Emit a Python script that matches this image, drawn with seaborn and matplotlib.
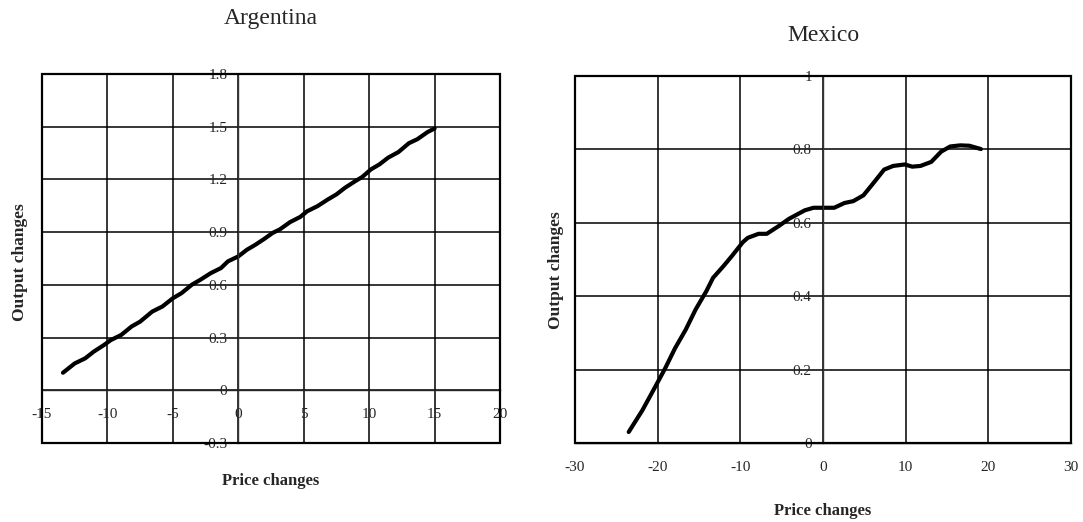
import pandas as pd
import seaborn as sns
import matplotlib.pyplot as plt
from matplotlib.patches import Rectangle

# values
arg_price = [-13.4, -12.5, -11.7, -11.05, -10.26, -9.74, -8.95, -8.16, -7.5, -6.58,
             -5.8, -5.0, -4.34, -3.55, -2.9, -2.1, -1.32, -0.79, 0.0, 0.66,
             1.32, 1.97, 2.63, 3.16, 3.95, 4.74, 5.26, 6.05, 6.84, 7.5,
             8.16, 8.95, 9.47, 10.13, 10.79, 11.45, 12.24, 13.03, 13.68, 14.47, 15.0]
arg_output = [0.10, 0.153, 0.182, 0.22, 0.258, 0.286, 0.315, 0.363, 0.391, 0.448,
              0.477, 0.524, 0.553, 0.601, 0.629, 0.667, 0.696, 0.734, 0.762, 0.80,
              0.829, 0.861, 0.896, 0.915, 0.957, 0.987, 1.019, 1.048, 1.086, 1.115,
              1.153, 1.191, 1.214, 1.257, 1.286, 1.324, 1.356, 1.406, 1.429, 1.47, 1.49]

mex_price = [-23.5, -21.85, -20.2, -19.1, -17.9, -16.6, -15.4, -14.1, -13.3, -12.0,
             -11.0, -9.7, -9.1, -7.8, -6.8, -5.3, -4.1, -2.2, -1.15, 1.36,
             2.6, 3.66, 4.9, 6.2, 7.4, 8.5, 9.9, 10.8, 11.8, 13.1,
             14.3, 15.4, 16.6, 17.7, 19.1]
mex_output = [0.03, 0.089, 0.157, 0.203, 0.258, 0.309, 0.364, 0.414, 0.45, 0.483,
              0.51, 0.547, 0.559, 0.57, 0.57, 0.592, 0.611, 0.634, 0.641, 0.641,
              0.654, 0.659, 0.675, 0.711, 0.745, 0.755, 0.759, 0.753, 0.755, 0.766,
              0.794, 0.808, 0.811, 0.81, 0.801]

arg_xticks = [-15, -10, -5, 0, 5, 10, 15, 20]
arg_yticks = [-0.3, 0, 0.3, 0.6, 0.9, 1.2, 1.5, 1.8]
arg_ylabels = ['-0.3', '0', '0.3', '0.6', '0.9', '1.2', '1.5', '1.8']
mex_xticks = [-30, -20, -10, 0, 10, 20, 30]
mex_yticks = [0, 0.2, 0.4, 0.6, 0.8, 1]
mex_ylabels = ['0', '0.2', '0.4', '0.6', '0.8', '1']

sns.set_style('white')
plt.rcParams['font.family'] = ['Liberation Serif', 'DejaVu Serif']

arg = pd.DataFrame({'price': arg_price, 'output': arg_output})
mex = pd.DataFrame({'price': mex_price, 'output': mex_output})

fig = plt.figure(figsize=(10.83, 5.22), dpi=100)
ax1 = fig.add_axes([0.0388, 0.1513, 0.4229, 0.7069])
ax2 = fig.add_axes([0.5309, 0.1513, 0.458, 0.7031])


def style(ax, xticks, yticks, ylabels, title, tpad, xlab_y, ylab_x, ylab_y):
    ax.set_xlim(xticks[0], xticks[-1])
    ax.set_ylim(yticks[0], yticks[-1])
    ax.set_xticks(xticks)
    ax.set_xticklabels([str(t) for t in xticks])
    ax.set_yticks(yticks)
    ax.set_yticklabels(ylabels)
    ax.grid(True, color='black', linewidth=1.1)
    ax.set_axisbelow(True)
    for s in ['top', 'right']:
        ax.spines[s].set_visible(False)
    ax.spines['left'].set_position(('data', 0))
    ax.spines['bottom'].set_position(('data', 0))
    ax.spines['left'].set_linewidth(1.0)
    ax.spines['bottom'].set_linewidth(1.0)
    ax.spines['left'].set_color('#333333')
    ax.add_patch(Rectangle((0, 0), 1, 1, transform=ax.transAxes, fill=False,
                           edgecolor='black', linewidth=1.6, zorder=5, clip_on=False))
    ax.tick_params(axis='both', labelsize=11, length=3, direction='out', color='black')
    ax.tick_params(axis='x', pad=10)
    ax.tick_params(axis='y', pad=5)
    ax.set_title(title, fontsize=17, pad=tpad)
    ax.set_xlabel('Price changes', fontsize=12, fontweight='bold')
    ax.set_ylabel('Output changes', fontsize=12.5, fontweight='bold')
    ax.xaxis.set_label_coords(0.5, xlab_y)
    ax.yaxis.set_label_coords(ylab_x, ylab_y)


sns.lineplot(data=arg, x='price', y='output', ax=ax1, color='black', linewidth=3, sort=False)
style(ax1, arg_xticks, arg_yticks, arg_ylabels, 'Argentina', 36, -0.081, -0.03, 0.49)

sns.lineplot(data=mex, x='price', y='output', ax=ax2, color='black', linewidth=3, sort=False)
style(ax2, mex_xticks, mex_yticks, mex_ylabels, 'Mexico', 25, -0.163, -0.022, 0.47)

plt.savefig('out.png', dpi=100)
